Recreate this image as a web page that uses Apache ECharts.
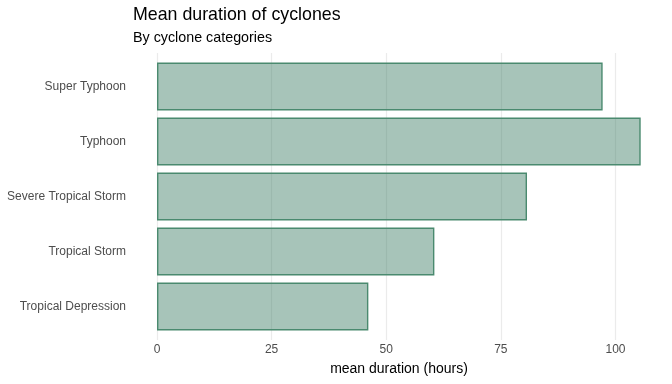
<!DOCTYPE html>
<html>
<head>
<meta charset="utf-8">
<script src="https://cdn.jsdelivr.net/npm/echarts@6/dist/echarts.min.js"></script>
<style>html,body{margin:0;padding:0;background:#fff}#c{width:672px;height:384px}</style>
</head>
<body>
<div id="c"></div>
<script>
const categories = ["Tropical Depression", "Tropical Storm", "Severe Tropical Storm", "Typhoon", "Super Typhoon"];
const meanHours = [46.1, 60.5, 80.7, 105.5, 97.2];
const xTicks = [0, 25, 50, 75, 100];

const FONT = "Liberation Sans";
const chart = echarts.init(document.getElementById('c'), null, {renderer: 'canvas'});
const xMax = 110.8;
chart.setOption({
  animation: false,
  backgroundColor: '#ffffff',
  title: [
    {text: 'Mean duration of cyclones', left: 133, top: 6, padding: 0,
     textStyle: {fontFamily: FONT, fontSize: 17.8, fontWeight: 'normal', color: '#000'}},
    {text: 'By cyclone categories', left: 133, top: 31, padding: 0,
     textStyle: {fontFamily: FONT, fontSize: 14.3, fontWeight: 'normal', color: '#000'}}
  ],
  grid: [
    {left: 157, right: 7, top: 59, height: 275, containLabel: false},
    {left: 157, right: 7, top: 53, height: 287, containLabel: false}
  ],
  xAxis: [
    {gridIndex: 0, type: 'value', min: 0, max: xMax, interval: 25,
     axisLine: {show: false}, axisTick: {show: false}, splitLine: {show: false},
     axisLabel: {show: true, margin: 10, color: '#4d4d4d', fontFamily: FONT, fontSize: 12,
       formatter: v => xTicks.includes(v) ? String(v) : ''},
     name: 'mean duration (hours)', nameLocation: 'middle', nameGap: 28,
     nameTextStyle: {fontFamily: FONT, fontSize: 14, color: '#000', padding: [0, 0, 0, -24]}},
    {gridIndex: 1, type: 'value', min: 0, max: xMax, interval: 25,
     axisLine: {show: false}, axisTick: {show: false}, axisLabel: {show: false},
     splitLine: {show: true, showMaxLine: false, lineStyle: {color: '#ebebeb', width: 1.2}}}
  ],
  yAxis: [
    {gridIndex: 0, type: 'category', data: categories,
     axisLine: {show: false}, axisTick: {show: false}, splitLine: {show: false},
     axisLabel: {margin: 31, color: '#4d4d4d', fontFamily: FONT, fontSize: 12}},
    {gridIndex: 1, type: 'category', data: categories, show: false}
  ],
  series: [{
    type: 'bar', xAxisIndex: 0, yAxisIndex: 0, data: meanHours,
    barWidth: 48, z: 3,
    itemStyle: {color: 'rgba(63,127,102,0.46)', borderColor: '#4a8a6f', borderWidth: 1.4}
  }]
});
</script>
</body>
</html>
